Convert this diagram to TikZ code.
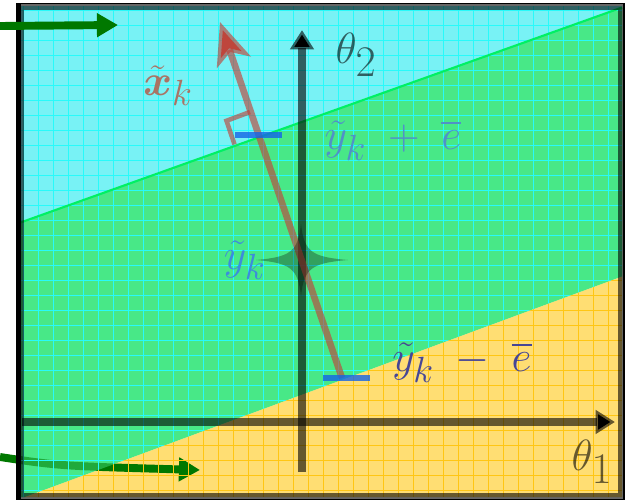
\documentclass[tikz,border=0pt]{standalone}
\usepackage{amsmath,amssymb}
\usepackage{xcolor}
\usetikzlibrary{arrows.meta,positioning}

\definecolor{skyc}{RGB}{120,242,245}
\definecolor{bandc}{RGB}{72,232,135}
\definecolor{sandc}{RGB}{255,222,115}
\definecolor{gridsky}{RGB}{40,250,250}
\definecolor{gridsand}{RGB}{255,198,20}
\definecolor{edgec}{RGB}{0,240,100}
\definecolor{arrg}{RGB}{0,120,0}
\definecolor{vecc}{RGB}{190,70,60}
\definecolor{markc}{RGB}{20,100,230}
\definecolor{lblx}{RGB}{170,115,100}
\definecolor{lblp}{RGB}{80,145,200}
\definecolor{lblc}{RGB}{60,140,220}
\definecolor{lblm}{RGB}{70,70,150}

\begin{document}
\begin{tikzpicture}[x=0.2mm, y=-0.2mm,
  axis/.style={draw=black, draw opacity=.6, line width=4pt, -{Triangle[length=11pt,width=13pt]}},
  vec/.style={draw=vecc, draw opacity=.65, line width=3.8pt, -{Stealth[length=24pt,width=20pt,inset=6pt]}},
  pointer/.style={draw=arrg, line width=4.5pt, -{Triangle[length=12pt,width=13pt]}},
  tick/.style={draw=markc, draw opacity=.8, line width=3.4pt},
  lbl/.style={inner sep=0pt, font=\fontsize{32}{32}\selectfont}
]
\useasboundingbox (0,0) rectangle (630,500);

% regions
\fill[skyc] (20,6) -- (622,6) -- (622,7.5) -- (20,222.7) -- cycle;
\fill[bandc] (20,222.7) -- (622,7.5) -- (622,276.5) -- (25,497) -- (20,497) -- cycle;
\fill[sandc] (25,497) -- (622,276.5) -- (622,497) -- cycle;

% lower pointer, partly under the band
\coordinate (p2s) at (0,457);
\coordinate (p2e) at (200,470);
\draw[pointer] (p2s) .. controls (60,466) .. (p2e);
\fill[bandc, opacity=.45] (20,222.7) -- (622,7.5) -- (622,276.5) -- (25,497) -- (20,497) -- cycle;

% grid
\begin{scope}
  \clip (20,6) -- (622,6) -- (622,276.5) -- (25,497) -- (20,497) -- cycle;
  \foreach \i in {23,38,...,623} \draw[gridsky, line width=.5pt] (\i,6) -- (\i,497);
  \foreach \j in {10,25,...,500} \draw[gridsky, line width=.5pt] (20,\j) -- (622,\j);
\end{scope}
\begin{scope}
  \clip (25,497) -- (622,276.5) -- (622,497) -- cycle;
  \foreach \i in {23,38,...,623} \draw[gridsand, line width=.5pt] (\i,6) -- (\i,497);
  \foreach \j in {10,25,...,500} \draw[gridsand, line width=.5pt] (20,\j) -- (622,\j);
\end{scope}
\draw[edgec, line width=1.2pt] (20,222.7) -- (622,7.5);

% frame
\draw[black, opacity=.6, line width=3.4pt] (21,7) rectangle (621,496);
\draw[black, line width=.8pt] (18,3.5) rectangle (624,500);
\draw[black, line width=2.4pt] (18.5,3) -- (18.5,500);

% axes
\coordinate (t1s) at (22,422);
\coordinate (t1e) at (615,422);
\coordinate (t2s) at (302,472);
\coordinate (t2e) at (302,30);
\draw[axis] (t1s) -- (t1e);
\draw[axis] (t2s) -- (t2e);
\node[lbl, font=\fontsize{34}{34}\selectfont, text=black, text opacity=.6] (t2) at (356,55) {$\theta_2$};
\node[lbl, font=\fontsize{34}{34}\selectfont, text=black, text opacity=.6] (t1) at (592,462) {$\theta_1$};

% projection vector
\coordinate (lo) at (342,378);
\coordinate (tip) at (220,22);
\coordinate (up) at (258,136);
\coordinate (c) at (301,260);
\draw[vec] (lo) -- (tip);
\draw[draw=vecc, draw opacity=.65, line width=2.6pt] (250,112) -- (226.5,120.8) -- (234.5,144.4);
\draw[tick] (235,135) -- (282,135);
\draw[tick] (323,378) -- (370,378);
\fill[black, opacity=.3] (256,260) .. controls (290,257) and (298,252) .. (301,224)
  .. controls (304,252) and (312,257) .. (348,260)
  .. controls (312,263) and (304,268) .. (301,296)
  .. controls (298,268) and (290,263) .. (256,260) -- cycle;

\node[lbl, font=\fontsize{28}{28}\selectfont, text=lblx] (xk) at (168,86) {$\tilde{\boldsymbol{x}}_k$};
\node[lbl, text=lblp] (yp) at (393,140) {$\tilde{y}_k\;+\;\overline{e}$};
\node[lbl, text=lblc, left=20pt of c] (yc) {$\tilde{y}_k$};
\node[lbl, text=lblm] (ym) at (462,362) {$\tilde{y}_k\;-\;\overline{e}$};

% upper pointer
\coordinate (p1s) at (0,26);
\coordinate (p1e) at (118,25);
\draw[pointer] (p1s) -- (p1e);
\end{tikzpicture}
\end{document}
